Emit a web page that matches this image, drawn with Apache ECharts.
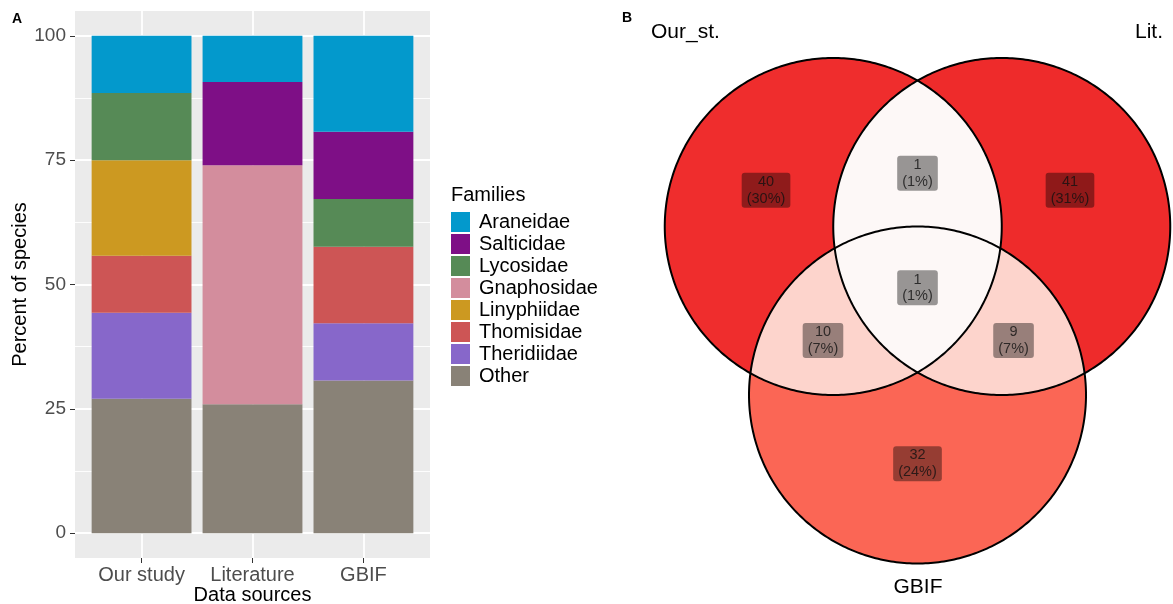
<!DOCTYPE html>
<html><head><meta charset="utf-8">
<script src="https://cdn.jsdelivr.net/npm/echarts@6/dist/echarts.min.js"></script>
<style>html,body{margin:0;padding:0;background:#fff}#c{width:1173px;height:604px}</style>
</head><body><div id="c"></div>
<script>
// ---------- Panel A data ----------
const categories = ['Our study', 'Literature', 'GBIF'];
const families = ['Araneidae', 'Salticidae', 'Lycosidae', 'Gnaphosidae', 'Linyphiidae', 'Thomisidae', 'Theridiidae', 'Other'];
const araneidae   = [11.5, 9.3, 19.3];
const salticidae  = [0, 16.7, 13.5];
const lycosidae   = [13.5, 0, 9.6];
const gnaphosidae = [0, 48.1, 0];
const linyphiidae = [19.2, 0, 0];
const thomisidae  = [11.5, 0, 15.4];
const theridiidae = [17.3, 0, 11.5];
const other       = [27.0, 25.9, 30.7];
const yTicks = [0, 25, 50, 75, 100];
const yMinorTicks = [12.5, 37.5, 62.5, 87.5];

// ---------- Panel B data ----------
const vennSets = ['Our_st.', 'Lit.', 'GBIF'];
const vennRegions = ['Our_st.', 'Lit.', 'GBIF', 'Our_st.&Lit.', 'Our_st.&GBIF', 'Lit.&GBIF', 'Our_st.&Lit.&GBIF'];
const vennCounts = [40, 41, 32, 1, 10, 9, 1];

// ---------- layout / style (not data) ----------
const FONT = 'Liberation Sans, Arial, Helvetica, sans-serif';
const familyColors = {
  Araneidae: '#0399CC', Salticidae: '#7E0F86', Lycosidae: '#568A56', Gnaphosidae: '#D38D9D',
  Linyphiidae: '#CC9921', Thomisidae: '#CD5555', Theridiidae: '#8767CA', Other: '#898277'
};
const familyValues = {
  Araneidae: araneidae, Salticidae: salticidae, Lycosidae: lycosidae, Gnaphosidae: gnaphosidae,
  Linyphiidae: linyphiidae, Thomisidae: thomisidae, Theridiidae: theridiidae, Other: other
};
const vennCenters = [[-0.5, 0], [0.5, 0], [0, -1]];  // unit-radius layout
const R = 1;
const regionFill = ['#EF2D2D', '#EE2B2B', '#FB6655', '#FDF8F7', '#FDD4CC', '#FDD4CC', '#FDF8F7'];
const vennLabelXY = [[-0.899, 0.215], [0.905, 0.215], [0, -1.408], [0, 0.316], [-0.561, -0.677], [0.570, -0.677], [0, -0.364]];
const vennLayers = [
  {kind: 'circle', a: 0, region: 0},
  {kind: 'circle', a: 1, region: 1},
  {kind: 'circle', a: 2, region: 2},
  {kind: 'lens', a: 0, b: 2, region: 4},
  {kind: 'lens', a: 1, b: 2, region: 5},
  {kind: 'lens', a: 0, b: 1, region: 3},
  {kind: 'outline', a: 0},
  {kind: 'outline', a: 1},
  {kind: 'outline', a: 2}
];
const total = vennCounts.reduce((s, v) => s + v, 0);

const chart = echarts.init(document.getElementById('c'), null, {renderer: 'canvas'});

// panel geometry: ggplot discrete axis with 0.6 expansion each side
const PANEL_L = 75, PANEL_W = 355, PANEL_T = 11, PANEL_H = 547;
const unit = PANEL_W / 3.2;

const stackOrder = families.slice().reverse(); // bottom -> top
const barSeries = stackOrder.map(f => ({
  name: f, type: 'bar', stack: 'total', xAxisIndex: 2, yAxisIndex: 2,
  barCategoryGap: '10%', z: 3, silent: true,
  itemStyle: {color: familyColors[f]},
  data: familyValues[f]
}));

const white = (w) => ({color: '#ffffff', width: w, type: 'solid'});
const gridSeries = {
  type: 'line', xAxisIndex: 0, yAxisIndex: 0, data: [], z: 0, silent: true,
  markLine: {
    silent: true, z: 0, animation: false, symbol: ['none', 'none'], label: {show: false},
    data: [
      ...yMinorTicks.map(v => ({yAxis: v, lineStyle: white(0.9)})),
      ...yTicks.map(v => ({yAxis: v, lineStyle: white(1.8)})),
      ...categories.map((c, i) => ({xAxis: i + 1, lineStyle: white(1.8)}))
    ]
  }
};

const vennSeries = {
  type: 'custom', xAxisIndex: 1, yAxisIndex: 1, silent: true, z: 2,
  data: vennLayers.map(() => [0, 0]),
  renderItem: function (params, api) {
    const L = vennLayers[params.dataIndex];
    const N = 200;
    const pt = (c, t) => api.coord([c[0] + R * Math.cos(t), c[1] + R * Math.sin(t)]);
    const pts = [];
    if (L.kind === 'lens') {
      const A = vennCenters[L.a], B = vennCenters[L.b];
      const dx = B[0] - A[0], dy = B[1] - A[1], d = Math.hypot(dx, dy);
      const phi = Math.atan2(dy, dx), al = Math.acos(d / (2 * R));
      for (let k = 0; k <= N; k++) pts.push(pt(A, phi - al + 2 * al * k / N));
      for (let k = 0; k <= N; k++) pts.push(pt(B, phi + Math.PI - al + 2 * al * k / N));
    } else {
      for (let k = 0; k < N * 2; k++) pts.push(pt(vennCenters[L.a], Math.PI * k / N));
    }
    const style = L.kind === 'outline'
      ? {fill: 'none', stroke: '#000000', lineWidth: 2}
      : {fill: regionFill[L.region], stroke: 'none'};
    return {type: 'polygon', shape: {points: pts}, style: style};
  }
};

const vennLabelSeries = {
  type: 'scatter', xAxisIndex: 1, yAxisIndex: 1, z: 5, silent: true,
  symbolSize: 1, itemStyle: {color: 'rgba(0,0,0,0)'},
  data: vennCounts.map((v, i) => ({name: vennRegions[i], value: [vennLabelXY[i][0], vennLabelXY[i][1], v]})),
  label: {
    show: true, position: 'inside',
    formatter: p => p.value[2] + '\n(' + Math.round(p.value[2] / total * 100) + '%)',
    fontFamily: FONT, fontSize: 14.5, lineHeight: 16.5, color: '#111111', align: 'center',
    backgroundColor: 'rgba(0,0,0,0.5)', padding: [1, 5, 1, 5], borderRadius: 3
  }
};

const gridBase = {containLabel: false, outerBoundsMode: 'none'};
const option = {
  animation: false,
  backgroundColor: '#ffffff',
  textStyle: {fontFamily: FONT},
  grid: [
    Object.assign({left: PANEL_L, top: PANEL_T, width: PANEL_W, height: PANEL_H, show: true, backgroundColor: '#EBEBEB', borderWidth: 0}, gridBase),
    Object.assign({left: 664.75, top: 58, width: 505.5, height: 505.5, show: false}, gridBase),
    Object.assign({left: PANEL_L + 0.1 * unit, top: PANEL_T, width: 3 * unit, height: PANEL_H, show: false}, gridBase)
  ],
  xAxis: [
    {type: 'value', gridIndex: 0, min: 0.4, max: 3.6, show: false},
    {type: 'value', gridIndex: 1, min: -1.5, max: 1.5, show: false},
    {
      type: 'category', gridIndex: 2, data: categories,
      axisLine: {show: false, onZero: false}, splitLine: {show: false},
      axisTick: {show: true, alignWithLabel: true, interval: 0, length: 5, lineStyle: {color: '#333333', width: 1}},
      axisLabel: {interval: 0, fontSize: 20, color: '#4D4D4D', margin: 7, fontFamily: FONT, hideOverlap: false}
    }
  ],
  yAxis: [
    {
      type: 'value', gridIndex: 0, min: -5, max: 105,
      axisLine: {show: false}, splitLine: {show: false},
      axisTick: {show: true, customValues: yTicks, length: 5, lineStyle: {color: '#333333', width: 1}},
      axisLabel: {customValues: yTicks, fontSize: 19, color: '#4D4D4D', margin: 9, fontFamily: FONT},
      name: 'Percent of species', nameLocation: 'middle', nameGap: 45,
      nameTextStyle: {fontSize: 20, color: '#000000', fontFamily: FONT}
    },
    {type: 'value', gridIndex: 1, min: -2, max: 1, show: false},
    {type: 'value', gridIndex: 2, min: -5, max: 105, show: false}
  ],
  legend: {
    orient: 'vertical', left: 451, top: 212, padding: 0, itemWidth: 19, itemHeight: 20, itemGap: 2,
    icon: 'rect', selectedMode: false, data: families,
    textStyle: {fontSize: 20, lineHeight: 20, color: '#000000', fontFamily: FONT, padding: [0, 0, 0, 4]}
  },
  graphic: [
    {type: 'text', left: 12, top: 12, style: {text: 'A', font: 'bold 14px ' + FONT, fill: '#000'}},
    {type: 'text', left: 622, top: 11, style: {text: 'B', font: 'bold 14px ' + FONT, fill: '#000'}},
    {type: 'text', left: 451, top: 185, style: {text: 'Families', font: '20px ' + FONT, fill: '#000'}},
    {type: 'text', x: PANEL_L + PANEL_W * 1.6 / 3.2, y: 595, style: {text: 'Data sources', font: '20px ' + FONT, fill: '#000', align: 'center', verticalAlign: 'middle'}},
    {type: 'text', left: 651, top: 22, style: {text: vennSets[0], font: '21px ' + FONT, fill: '#000'}},
    {type: 'text', right: 10, top: 22, style: {text: vennSets[1], font: '21px ' + FONT, fill: '#000'}},
    {type: 'text', x: 918, y: 587, style: {text: vennSets[2], font: '21px ' + FONT, fill: '#000', align: 'center', verticalAlign: 'middle'}}
  ],
  series: [gridSeries, ...barSeries, vennSeries, vennLabelSeries]
};
chart.setOption(option);
</script></body></html>
